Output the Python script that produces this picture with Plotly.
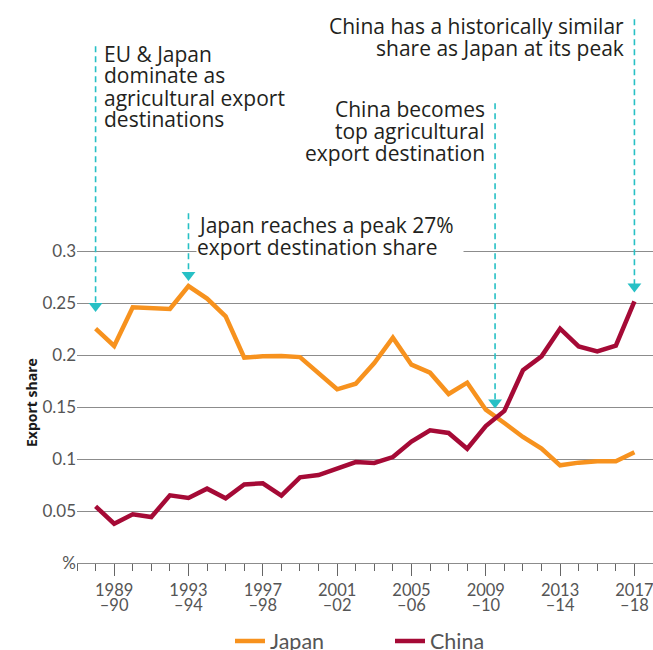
import plotly.graph_objects as go

# ---- data ----
years = list(range(1988, 2018))
japan = [0.2253, 0.2087, 0.2458, 0.2452, 0.2442, 0.2663, 0.2542, 0.2372, 0.1974, 0.1987,
         0.1990, 0.1980, 0.1820, 0.1670, 0.1724, 0.1923, 0.2167, 0.1907, 0.1830, 0.1625,
         0.1734, 0.1474, 0.1346, 0.1212, 0.1100, 0.0939, 0.0965, 0.0978, 0.0978, 0.1064]
china = [0.0545, 0.0378, 0.0468, 0.0442, 0.0651, 0.0625, 0.0715, 0.0622, 0.0756, 0.0766,
         0.0647, 0.0824, 0.0846, 0.0913, 0.0971, 0.0962, 0.1019, 0.1167, 0.1276, 0.1250,
         0.1099, 0.1317, 0.1462, 0.1853, 0.1987, 0.2253, 0.2083, 0.2035, 0.2090, 0.2516]

major_ticks = [1989, 1993, 1997, 2001, 2005, 2009, 2013, 2017]
major_top = ["1989", "1993", "1997", "2001", "2005", "2009", "2013", "2017"]
major_bottom = ["–90", "–94", "–98", "–02", "–06", "–10", "–14", "–18"]
y_ticks = [0, 0.05, 0.1, 0.15, 0.2, 0.25, 0.3]
y_labels = ["%", "0.05", "0.1", "0.15", "0.2", "0.25", "0.3"]

# annotation arrows (x position, arrow tip value, top of dashed line value)
arrow_x = [1988, 1993, 2009.5, 2017]
arrow_tip = [0.2413, 0.2712, 0.1485, 0.2600]
arrow_top = [0.4968, 0.3363, 0.4420, 0.5228]

note_eu = ["EU & Japan", "dominate as", "agricultural export", "destinations"]
note_peak = ["Japan reaches a peak 27%", "export destination share"]
note_top = ["China becomes", "top agricultural", "export destination"]
note_similar = ["China has a historically similar", "share as Japan at its peak"]

# ---- layout geometry (screen pixels; body margin removed in the page) ----
OFF = 0
W, H = 653, 650
L, R, T, B = 77, 0, 8, 87
PW, PH = W - L - R, H - T - B
XR = [1987, 2018]
PX_PER_UNIT = 1040.0
YR = [0, PH / PX_PER_UNIT]


def px_x(sx):
    return (sx - OFF - L) / PW


def px_y(sy):
    return (H - B - (sy - OFF)) / PH


ORANGE = "#F7921E"
CRIMSON = "#A50A36"
TEAL = "#27C0C5"
GRID = "#8C8C8C"
TICKFONT = "Lato"
NOTEFONT = "Open Sans"

fig = go.Figure()

# dashed arrow lines and heads
for ax, tip, top in zip(arrow_x, arrow_tip, arrow_top):
    fig.add_trace(go.Scatter(x=[ax, ax], y=[top, tip + 8 / PX_PER_UNIT], mode="lines", xaxis="x2",
                             line=dict(color=TEAL, width=1.6, dash="6px,4px"),
                             showlegend=False, hoverinfo="skip", cliponaxis=False))
fig.add_trace(go.Scatter(x=arrow_x, y=[t + 6 / PX_PER_UNIT for t in arrow_tip], mode="markers",
                         xaxis="x2", marker=dict(symbol="triangle-down", size=12, color=TEAL),
                         showlegend=False, hoverinfo="skip"))

fig.add_trace(go.Scatter(x=years, y=japan, name="Japan", mode="lines",
                         line=dict(color=ORANGE, width=4.5)))
fig.add_trace(go.Scatter(x=years, y=china, name="China", mode="lines",
                         line=dict(color=CRIMSON, width=4.5)))

ann_font = dict(family=NOTEFONT, size=21, color="#231F20")
LINE = 22
CENTER_FROM_BASE = 10


def add_lines(lines, sx, first_base, anchor, bg_line=None, bg_width=None):
    order = list(range(len(lines)))
    if bg_line is not None:
        order = [bg_line] + [i for i in order if i != bg_line]
    for i in order:
        kw = {}
        if bg_line == i:
            kw = dict(bgcolor="white", width=bg_width, borderpad=0)
        fig.add_annotation(text=lines[i], xref="paper", yref="paper", x=px_x(sx),
                           y=px_y(first_base + i * LINE - CENTER_FROM_BASE),
                           xanchor=anchor, yanchor="middle", align=anchor, showarrow=False,
                           font=ann_font, **kw)


add_lines(note_eu, 102, 63.5, "left")
add_lines(note_peak, 196, 234.5, "left", bg_line=1, bg_width=266)
add_lines(note_top, 487, 118.5, "right")
add_lines(note_similar, 626, 36, "right")

fig.add_annotation(text="<b>Export share</b>", xref="paper", yref="paper", x=px_x(31), y=px_y(403),
                   textangle=-90, showarrow=False, xanchor="center", yanchor="middle",
                   font=dict(family=NOTEFONT, size=14, color="#1a1a1a"))

tickfont = dict(family=TICKFONT, size=17, color="#555555")
xtickfont = dict(family=TICKFONT, size=16.5, color="#555555")
fig.update_layout(
    width=W, height=H,
    margin=dict(l=L, r=R, t=T, b=B, pad=0, autoexpand=False),
    plot_bgcolor="white", paper_bgcolor="white",
    font=dict(family=TICKFONT, color="#555555"),
    showlegend=True,
    legend=dict(orientation="h", x=px_x(230), xanchor="left", y=px_y(641), yanchor="middle",
                font=dict(family=TICKFONT, size=21.5, color="#555555"),
                entrywidth=115, bgcolor="rgba(0,0,0,0)"),
    xaxis=dict(range=XR, showgrid=False, zeroline=False, showline=True, linecolor=GRID,
               linewidth=1.3, ticks="outside", ticklen=12, tickwidth=1.3, tickcolor="#666666",
               tickmode="array", tickvals=major_ticks, ticktext=major_top,
               tickfont=xtickfont, automargin=False, ticklabeloverflow="allow",
               minor=dict(tickmode="linear", tick0=1988, dtick=1, ticks="outside", ticklen=7,
                          tickwidth=1.3, tickcolor="#666666", showgrid=False),
               fixedrange=True),
    xaxis2=dict(range=XR, overlaying="x", anchor="y", side="bottom", showgrid=False,
                zeroline=False, showline=False, ticks="outside", ticklen=12,
                tickcolor="rgba(0,0,0,0)", tickmode="array", tickvals=major_ticks,
                ticktext=major_bottom, tickfont=xtickfont, ticklabelstandoff=15,
                ticklabeloverflow="allow", automargin=False, fixedrange=True),
    yaxis=dict(range=YR, showgrid=True, gridcolor=GRID, gridwidth=1.3, zeroline=False,
               showline=False, tickmode="array", tickvals=y_ticks, ticktext=y_labels,
               ticks="", tickfont=tickfont, automargin=False, fixedrange=True),
)

fig.write_html("out.html", config={"displayModeBar": False},
               post_script="document.body.style.margin='0';document.body.style.overflow='hidden';")
